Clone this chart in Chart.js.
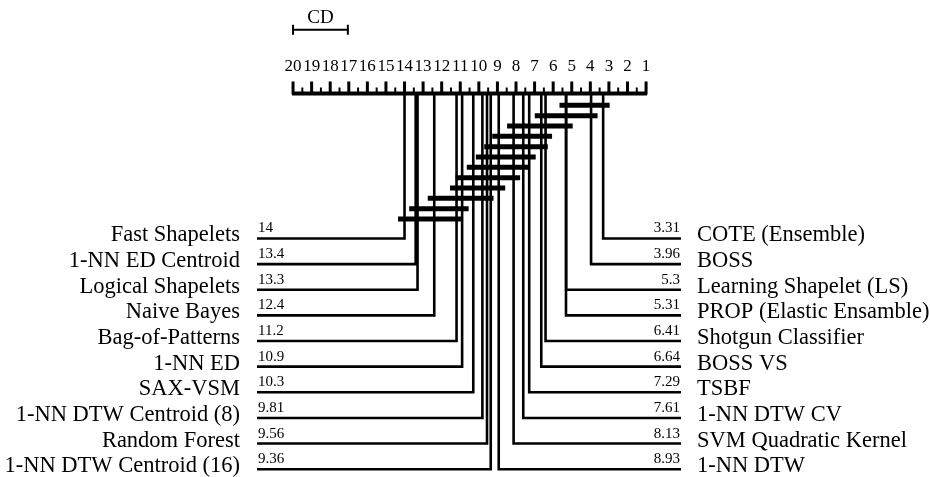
<!DOCTYPE html>
<html>
<head>
<meta charset="utf-8">
<script src="https://cdn.jsdelivr.net/npm/chart.js@4.4.0/dist/chart.umd.min.js"></script>
<style>
  body { margin: 0; background: #fff; }
  #wrap { width: 930px; height: 477px; }
</style>
</head>
<body>
<div id="wrap"><canvas id="cd-chart" width="930" height="477"></canvas></div>
<script>
// average ranks, worse half on the left, better half on the right
const leftNames = ['Fast Shapelets', '1-NN ED Centroid', 'Logical Shapelets', 'Naive Bayes', 'Bag-of-Patterns',
  '1-NN ED', 'SAX-VSM', '1-NN DTW Centroid (8)', 'Random Forest', '1-NN DTW Centroid (16)'];
const leftRanks = [14, 13.4, 13.3, 12.4, 11.2, 10.9, 10.3, 9.81, 9.56, 9.36];
const rightNames = ['COTE (Ensemble)', 'BOSS', 'Learning Shapelet (LS)', 'PROP (Elastic Ensamble)', 'Shotgun Classifier',
  'BOSS VS', 'TSBF', '1-NN DTW CV', 'SVM Quadratic Kernel', '1-NN DTW'];
const rightRanks = [3.31, 3.96, 5.3, 5.31, 6.41, 6.64, 7.29, 7.61, 8.13, 8.93];

// groups not significantly different (start / end rank of each bar)
const cliqueFrom = [3.31, 3.96, 5.3, 6.41, 6.64, 7.29, 7.61, 8.13, 8.93, 9.56, 10.9, 11.2];
const cliqueTo = [5.31, 6.64, 8.13, 8.93, 9.36, 9.81, 10.3, 10.9, 11.2, 12.4, 13.4, 14];

const tickValues = [1, 2, 3, 4, 5, 6, 7, 8, 9, 10, 11, 12, 13, 14, 15, 16, 17, 18, 19, 20];
const criticalDiff = 2.95;

// layout (y in pixels below the rank axis)
const xMin = -0.88, xMax = 21.94;
const rowY = i => 146 + i * 25.8;
const cliqueY = j => 12 + j * 10.4;
const cdY = -64;
const serif = '"Liberation Serif", "Times New Roman", serif';

const datasets = [];
function addLine(points, width) {
  datasets.push({
    data: points,
    borderColor: '#000',
    borderWidth: width,
    pointRadius: 0,
    clip: false,
    spanGaps: false,
    tension: 0,
    borderJoinStyle: 'miter'
  });
}

// axis with major and half ticks
addLine([{x: 20.05, y: 0}, {x: 0.95, y: 0}], 4);
addLine(tickValues.flatMap(r => [{x: r, y: 1}, {x: r, y: -12}, {x: r, y: null}]), 3);
addLine(tickValues.slice(1).flatMap(r => [{x: r - 0.5, y: 1}, {x: r - 0.5, y: -6}, {x: r - 0.5, y: null}]), 2);

// method lines
leftRanks.forEach((r, i) => addLine([{x: r, y: 0}, {x: r, y: rowY(i)}, {x: xMax, y: rowY(i)}], 2.6));
rightRanks.forEach((r, i) => addLine([{x: r, y: 0}, {x: r, y: rowY(i)}, {x: xMin, y: rowY(i)}], 2.6));

// clique bars
cliqueFrom.forEach((r, j) => addLine([{x: r - 0.35, y: cliqueY(j)}, {x: cliqueTo[j] + 0.35, y: cliqueY(j)}], 5));

// CD bar
addLine([{x: 20, y: cdY}, {x: 20 - criticalDiff, y: cdY}], 2);
addLine([{x: 20, y: cdY - 5}, {x: 20, y: cdY + 5}, {x: 20, y: null},
  {x: 20 - criticalDiff, y: cdY - 5}, {x: 20 - criticalDiff, y: cdY + 5}], 2);

const labelPlugin = {
  id: 'labels',
  afterDatasetsDraw(chart) {
    const ctx = chart.ctx;
    const xs = chart.scales.x, ys = chart.scales.y;
    const leftEdge = xs.getPixelForValue(xMax);
    const rightEdge = xs.getPixelForValue(xMin);
    ctx.save();
    ctx.fillStyle = '#000';
    ctx.textBaseline = 'alphabetic';

    leftNames.forEach((name, i) => {
      const y = ys.getPixelForValue(rowY(i));
      ctx.font = '22.5px ' + serif;
      ctx.textAlign = 'right';
      ctx.fillText(name, leftEdge - 17, y + 3);
      ctx.font = '15px ' + serif;
      ctx.textAlign = 'left';
      ctx.fillText(String(leftRanks[i]), leftEdge + 1, y - 6);
    });
    rightNames.forEach((name, i) => {
      const y = ys.getPixelForValue(rowY(i));
      ctx.font = '22.5px ' + serif;
      ctx.textAlign = 'left';
      ctx.fillText(name, rightEdge + 16, y + 3);
      ctx.font = '15px ' + serif;
      ctx.textAlign = 'right';
      ctx.fillText(String(rightRanks[i]), rightEdge - 1, y - 6);
    });

    ctx.font = '19px ' + serif;
    ctx.textAlign = 'center';
    ctx.fillText('CD', xs.getPixelForValue(20 - criticalDiff / 2), ys.getPixelForValue(cdY - 7));
    ctx.restore();
  }
};

new Chart(document.getElementById('cd-chart'), {
  type: 'line',
  data: { datasets: datasets },
  plugins: [labelPlugin],
  options: {
    responsive: false,
    animation: false,
    layout: { padding: { left: 257, right: 249, top: 39, bottom: 8 } },
    plugins: { legend: { display: false }, tooltip: { enabled: false }, title: { display: false } },
    scales: {
      x: {
        type: 'linear',
        position: 'top',
        reverse: true,
        min: xMin,
        max: xMax,
        afterBuildTicks: scale => { scale.ticks = tickValues.map(v => ({ value: v })); },
        grid: { display: false, drawTicks: false, tickLength: 0 },
        border: { display: false },
        ticks: {
          padding: 17,
          color: '#000',
          autoSkip: false,
          maxRotation: 0,
          font: { family: serif, size: 17 }
        }
      },
      y: {
        type: 'linear',
        reverse: true,
        min: 0,
        max: 378,
        display: false
      }
    }
  }
});
</script>
</body>
</html>
